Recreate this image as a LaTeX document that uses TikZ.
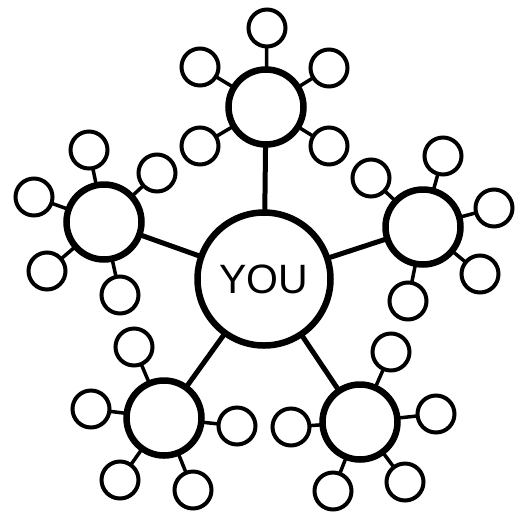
\documentclass[tikz,border=0pt]{standalone}
\usepackage{fontspec}
\setmainfont{Liberation Sans}
\begin{document}
\begin{tikzpicture}[x=1pt,y=-1pt,
	hub/.style={circle,draw,line width=6.5pt,minimum size=133pt,inner sep=0pt,font=\fontsize{41}{41}\selectfont},
	sat/.style={circle,draw,line width=6.5pt,minimum size=75pt,inner sep=0pt},
	leaf/.style={circle,draw,line width=4pt,minimum size=37pt,inner sep=0pt},
	spoke/.style={line width=5pt,shorten <=-2pt,shorten >=-2pt},
	twig/.style={line width=3.5pt,shorten <=-2pt,shorten >=-2pt}]
	\useasboundingbox (0,0) rectangle (530,515);
					\node[hub] at (264,279) (you) {YOU};
					% satellites
					\node[sat] at (266,107) (s0) {};
					\node[sat] at (423,227) (s1) {};
					\node[sat] at (360,422) (s2) {};
					\node[sat] at (164,418) (s3) {};
					\node[sat] at (104,222) (s4) {};
					% leaves
					\node[leaf] at (267,28)  (s0a) {};
					\node[leaf] at (200,67)  (s0b) {};
					\node[leaf] at (329,68)  (s0c) {};
					\node[leaf] at (200,146) (s0d) {};
					\node[leaf] at (329,146) (s0e) {};
					\node[leaf] at (443,156) (s1a) {};
					\node[leaf] at (371,178) (s1b) {};
					\node[leaf] at (494,208) (s1c) {};
					\node[leaf] at (480,274) (s1d) {};
					\node[leaf] at (408,301) (s1e) {};
					\node[leaf] at (391,352) (s2a) {};
					\node[leaf] at (436,414) (s2b) {};
					\node[leaf] at (291,427) (s2c) {};
					\node[leaf] at (333,491) (s2d) {};
					\node[leaf] at (405,482) (s2e) {};
					\node[leaf] at (134,347) (s3a) {};
					\node[leaf] at (91,409)  (s3b) {};
					\node[leaf] at (237,426) (s3c) {};
					\node[leaf] at (120,480) (s3d) {};
					\node[leaf] at (193,490) (s3e) {};
					\node[leaf] at (89,150)  (s4a) {};
					\node[leaf] at (157,173) (s4b) {};
					\node[leaf] at (34,197)  (s4c) {};
					\node[leaf] at (47,271)  (s4d) {};
					\node[leaf] at (120,295) (s4e) {};
					% connectors
					\draw[spoke] (you) -- (s0);
					\draw[spoke] (you) -- (s1);
					\draw[spoke] (you) -- (s2);
					\draw[spoke] (you) -- (s3);
					\draw[spoke] (you) -- (s4);
					\draw[twig] (s0) -- (s0a); \draw[twig] (s0) -- (s0b); \draw[twig] (s0) -- (s0c); \draw[twig] (s0) -- (s0d); \draw[twig] (s0) -- (s0e);
					\draw[twig] (s1) -- (s1a); \draw[twig] (s1) -- (s1b); \draw[twig] (s1) -- (s1c); \draw[twig] (s1) -- (s1d); \draw[twig] (s1) -- (s1e);
					\draw[twig] (s2) -- (s2a); \draw[twig] (s2) -- (s2b); \draw[twig] (s2) -- (s2c); \draw[twig] (s2) -- (s2d); \draw[twig] (s2) -- (s2e);
					\draw[twig] (s3) -- (s3a); \draw[twig] (s3) -- (s3b); \draw[twig] (s3) -- (s3c); \draw[twig] (s3) -- (s3d); \draw[twig] (s3) -- (s3e);
					\draw[twig] (s4) -- (s4a); \draw[twig] (s4) -- (s4b); \draw[twig] (s4) -- (s4c); \draw[twig] (s4) -- (s4d); \draw[twig] (s4) -- (s4e);
				\end{tikzpicture}
\end{document}
